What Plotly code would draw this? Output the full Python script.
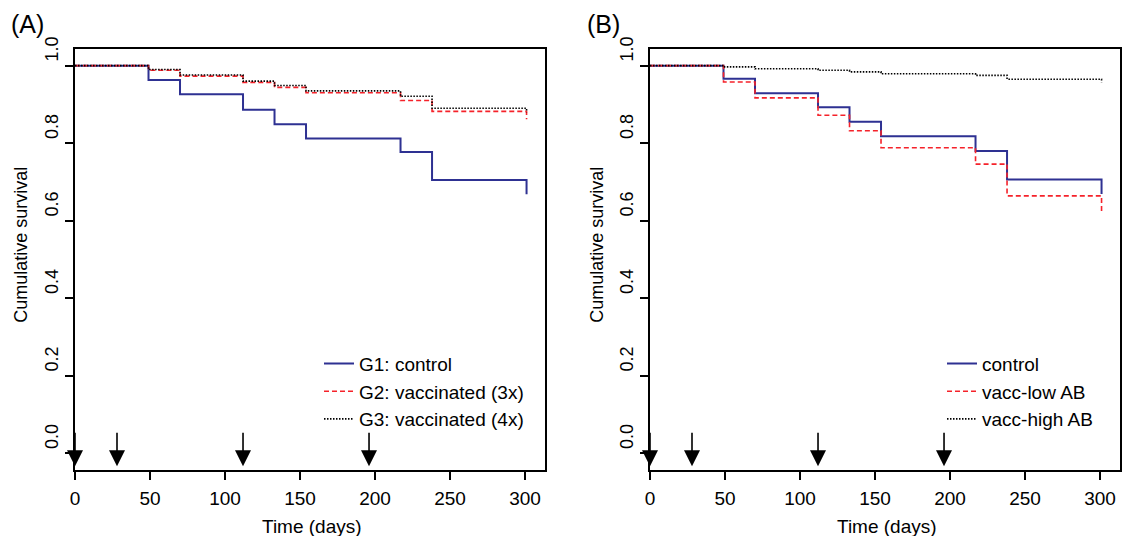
import plotly.graph_objects as go

# ---- data ----
days = [0, 49, 70, 112, 133, 154, 217, 238, 301]

# Panel A
a_names = ["G1: control", "G2: vaccinated (3x)", "G3: vaccinated (4x)"]
a_g1 = [1.0, 0.963, 0.926, 0.886, 0.849, 0.812, 0.777, 0.705, 0.668]
a_g2 = [1.0, 0.988, 0.973, 0.957, 0.944, 0.930, 0.910, 0.882, 0.862]
a_g3 = [1.0, 0.990, 0.976, 0.960, 0.949, 0.935, 0.921, 0.890, 0.880]

# Panel B
b_names = ["control", "vacc-low AB", "vacc-high AB"]
b_ctrl = [1.0, 0.966, 0.929, 0.893, 0.855, 0.818, 0.780, 0.706, 0.669]
b_low = [1.0, 0.958, 0.917, 0.872, 0.832, 0.788, 0.746, 0.664, 0.620]
b_high = [1.0, 0.997, 0.992, 0.988, 0.984, 0.979, 0.975, 0.965, 0.957]

vacc_days = [0, 28, 112, 196]

x_ticks = [0, 50, 100, 150, 200, 250, 300]
y_ticks = [0.0, 0.2, 0.4, 0.6, 0.8, 1.0]
y_ticklabels = ["0.0", "0.2", "0.4", "0.6", "0.8", "1.0"]

x_title = "Time (days)"
y_title = "Cumulative survival"
panel_labels = ["(A)", "(B)"]

# ---- styles ----
FONT = "Liberation Sans, Arial, Helvetica, sans-serif"
BLUE = "#2e3192"
RED = "#f5222a"
BLACK = "#000000"
styles = [
    dict(color=BLUE, width=2, dash="solid"),
    dict(color=RED, width=1.6, dash="5px,3px"),
    dict(color=BLACK, width=1.6, dash="1.5px,1.5px"),
]

fig = go.Figure()

for name, vals, st in zip(a_names, [a_g1, a_g2, a_g3], styles):
    fig.add_trace(go.Scatter(x=days, y=vals, mode="lines", name=name,
                             line=dict(shape="hv", **st),
                             xaxis="x", yaxis="y", legend="legend"))
for name, vals, st in zip(b_names, [b_ctrl, b_low, b_high], styles):
    fig.add_trace(go.Scatter(x=days, y=vals, mode="lines", name=name,
                             line=dict(shape="hv", **st),
                             xaxis="x2", yaxis="y2", legend="legend2"))

# page body has an 8px margin: work in figure pixels = screen pixels - 8
OFF = 8
W, H = 1134 - OFF, 536 - OFF
ML, MT = 75 - OFF, 49 - OFF
MB = H - (470.5 - OFF)
MR = W - (1120 - OFF)
pw = W - ML - MR
ph = H - MT - MB

def sx(px):  # screen x -> paper
    return (px - OFF - ML) / pw

def sy(py):  # screen y -> paper
    return (H - MB - (py - OFF)) / ph

xaxis_common = dict(range=[0, 313.3], tickvals=x_ticks, ticks="outside", ticklen=8,
                    tickwidth=1.5, tickcolor="black", showline=True, linecolor="black",
                    linewidth=1.5, mirror=True, showgrid=False, zeroline=False,
                    tickfont=dict(family=FONT, size=19, color="black"),
                    ticklabelstandoff=2)
yaxis_common = dict(range=[-0.0434, 1.043], tickvals=y_ticks, ticktext=y_ticklabels,
                    ticks="outside", ticklen=8, tickwidth=1.5, tickcolor="black",
                    showline=True, linecolor="black", linewidth=1.5, mirror=True,
                    showgrid=False, zeroline=False, tickangle=-90,
                    tickfont=dict(family=FONT, size=18, color="black"),
                    ticklabelshift=-14)

legend_common = dict(xanchor="left", yanchor="top", bgcolor="rgba(0,0,0,0)", borderwidth=0,
                     tracegroupgap=0, itemwidth=30,
                     font=dict(family=FONT, size=19, color="black"))

fig.update_layout(
    width=W, height=H,
    margin=dict(l=ML, r=MR, t=MT, b=MB, autoexpand=False),
    paper_bgcolor="white", plot_bgcolor="white",
    font=dict(family=FONT, size=18, color="black"),
    xaxis=dict(domain=[0, 470 / pw], anchor="y", **xaxis_common),
    yaxis=dict(domain=[0, 1], anchor="x", **yaxis_common),
    xaxis2=dict(domain=[(650 - 75) / pw, 1], anchor="y2", **xaxis_common),
    yaxis2=dict(domain=[0, 1], anchor="x2", **yaxis_common),
    legend=dict(x=sx(319), y=sy(345), **legend_common),
    legend2=dict(x=sx(942), y=sy(345), **legend_common),
    showlegend=True,
)

# vaccination arrows
for xr, yr in [("x", "y"), ("x2", "y2")]:
    for d in vacc_days:
        fig.add_annotation(x=d, y=-0.034, xref=xr, yref=yr, ax=0, ay=-35,
                           showarrow=True, arrowhead=2, arrowsize=2, arrowwidth=1.6,
                           arrowcolor="black", text="")

# panel labels and axis titles
for lab, px_lab, px_ytitle, px_xtitle in zip(panel_labels, [27, 603], [21, 597], [312, 887]):
    fig.add_annotation(x=sx(px_lab), y=sy(24), xref="paper", yref="paper",
                       text=lab, showarrow=False, xanchor="center", yanchor="middle",
                       font=dict(family=FONT, size=25, color="black"))
    fig.add_annotation(x=sx(px_ytitle), y=sy(245), xref="paper", yref="paper",
                       text=y_title, textangle=-90, showarrow=False,
                       xanchor="center", yanchor="middle",
                       font=dict(family=FONT, size=18, color="black"))
    fig.add_annotation(x=sx(px_xtitle), y=sy(527), xref="paper", yref="paper",
                       text=x_title, showarrow=False,
                       xanchor="center", yanchor="middle",
                       font=dict(family=FONT, size=19, color="black"))

fig.write_html("out.html")
